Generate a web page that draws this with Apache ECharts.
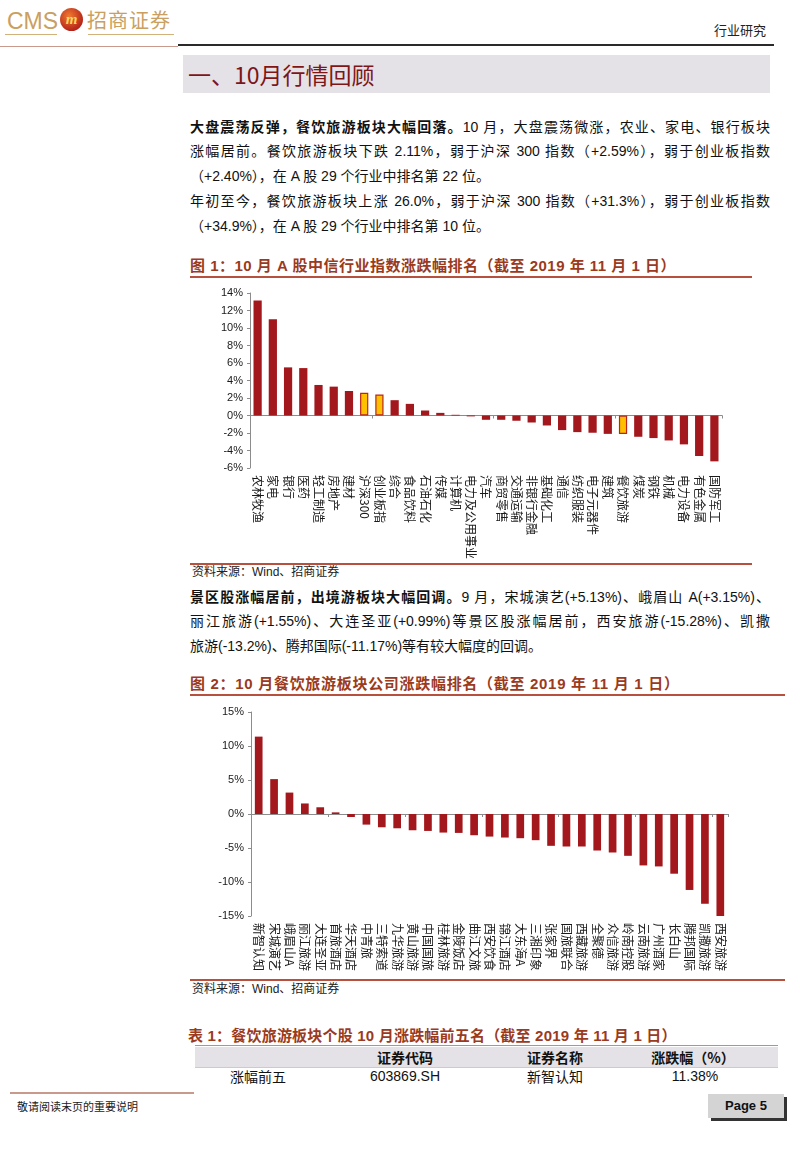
<!DOCTYPE html>
<html><head><meta charset="utf-8">
<script src="https://cdn.jsdelivr.net/npm/echarts@6/dist/echarts.min.js"></script>
<style>
html,body{margin:0;padding:0;background:#fff;}
#page{position:relative;width:800px;height:1164px;overflow:hidden;font-family:"Liberation Sans","Noto Sans CJK SC",sans-serif;color:#111;}
.abs{position:absolute;}
.ln{position:absolute;left:190px;width:580px;height:20px;line-height:20px;font-size:14px;white-space:nowrap;text-align:justify;text-align-last:justify;}
.ln.last{text-align-last:left;}
.ln b{font-family:"Noto Sans CJK SC",sans-serif;font-weight:700;}
.ftitle{position:absolute;left:190px;font-size:15px;font-weight:700;color:#9B3A1C;white-space:nowrap;line-height:20px;letter-spacing:0.5px;}
.rule{position:absolute;height:2px;background:#B8503E;}
.src{position:absolute;left:192px;font-size:12px;color:#222;line-height:16px;}
</style></head>
<body><div id="page">
<!-- header -->
<div class="abs" style="left:7px;top:8px;font-family:'Liberation Sans Narrow','Liberation Sans';font-size:23px;color:#C9A062;line-height:26px;">CMS</div>
<div class="abs" style="left:60px;top:8px;width:23px;height:23px;border-radius:12px;background:radial-gradient(circle at 40% 35%,#F07A30,#B8261A 70%,#8A1A12);"></div>
<div class="abs" style="left:60px;top:8px;width:23px;height:23px;line-height:23px;text-align:center;font-style:italic;font-weight:700;font-size:15px;color:#FFD75A;font-family:'Liberation Serif';">m</div>
<div class="abs" style="left:87px;top:7px;font-family:'Noto Sans CJK SC';font-size:20px;color:#C9A062;line-height:26px;letter-spacing:1px;">招商证券</div>
<div class="abs" style="left:5px;top:34px;width:52px;height:1px;background:#D2B27A;"></div>
<div class="abs" style="left:88px;top:34px;width:86px;height:1px;background:#D2B27A;"></div>
<div class="abs" style="left:714px;top:22px;font-family:'Noto Sans CJK SC';font-size:13px;color:#222;line-height:16px;">行业研究</div>
<div class="abs" style="left:0px;top:46px;width:178px;height:1px;background:#C79A8C;"></div>
<div class="abs" style="left:178px;top:44px;width:596px;height:2px;background:#2A2A2A;"></div>
<div class="abs" style="left:183px;top:55px;width:587px;height:38px;background:#E4E2E6;"></div>
<div class="abs" style="left:188px;top:58px;font-family:'Noto Sans CJK SC';font-size:23px;color:#7E1517;line-height:32px;">一、10月行情回顾</div>

<!-- paragraphs -->
<div class="ln" style="top:116px;"><b>大盘震荡反弹，餐饮旅游板块大幅回落。</b>10 月，大盘震荡微涨，农业、家电、银行板块</div>
<div class="ln" style="top:141px;">涨幅居前。餐饮旅游板块下跌 2.11%，弱于沪深 300 指数（+2.59%），弱于创业板指数</div>
<div class="ln last" style="top:166px;">（+2.40%），在 A 股 29 个行业中排名第 22 位。</div>
<div class="ln" style="top:191px;">年初至今，餐饮旅游板块上涨 26.0%，弱于沪深 300 指数（+31.3%），弱于创业板指数</div>
<div class="ln last" style="top:216px;">（+34.9%），在 A 股 29 个行业中排名第 10 位。</div>

<!-- figure 1 -->
<div class="ftitle" style="top:256px;">图 1：10 月 A 股中信行业指数涨跌幅排名（截至 2019 年 11 月 1 日）</div>
<div class="rule" style="left:190px;top:276px;width:562px;"></div>
<div id="c1" class="abs" style="left:185px;top:280px;width:575px;height:282px;"></div>
<div class="rule" style="left:190px;top:563px;width:562px;"></div>
<div class="src" style="top:564px;">资料来源：Wind、招商证券</div>

<div class="ln" style="top:586px;"><b>景区股涨幅居前，出境游板块大幅回调。</b>9 月，宋城演艺(+5.13%)、峨眉山 A(+3.15%)、</div>
<div class="ln" style="top:611px;">丽江旅游(+1.55%)、大连圣亚(+0.99%)等景区股涨幅居前，西安旅游(-15.28%)、凯撒</div>
<div class="ln last" style="top:636px;">旅游(-13.2%)、腾邦国际(-11.17%)等有较大幅度的回调。</div>

<!-- figure 2 -->
<div class="ftitle" style="top:674px;letter-spacing:0.7px;">图 2：10 月餐饮旅游板块公司涨跌幅排名（截至 2019 年 11 月 1 日）</div>
<div class="rule" style="left:190px;top:694px;width:595px;"></div>
<div id="c2" class="abs" style="left:185px;top:698px;width:575px;height:280px;"></div>
<div class="rule" style="left:190px;top:979px;width:595px;"></div>
<div class="src" style="top:981px;">资料来源：Wind、招商证券</div>

<!-- table -->
<div class="ftitle" style="left:188px;top:1026px;letter-spacing:0.2px;">表 1：餐饮旅游板块个股 10 月涨跌幅前五名（截至 2019 年 11 月 1 日）</div>
<div class="abs" style="left:195px;top:1045px;width:583px;height:1px;background:#C98A7C;"></div>
<div class="abs" style="left:195px;top:1047px;width:583px;height:20px;background:#E4E2E6;"></div>
<div class="abs" style="left:195px;top:1067px;width:583px;height:1px;background:#D6C6C6;"></div>
<div class="abs" style="left:365px;top:1047px;width:80px;text-align:center;font-weight:700;font-size:14px;line-height:20px;font-family:'Noto Sans CJK SC';">证券代码</div>
<div class="abs" style="left:515px;top:1047px;width:80px;text-align:center;font-weight:700;font-size:14px;line-height:20px;font-family:'Noto Sans CJK SC';">证券名称</div>
<div class="abs" style="left:643px;top:1047px;width:100px;text-align:center;font-weight:700;font-size:14px;line-height:20px;font-family:'Noto Sans CJK SC';">涨跌幅（%）</div>
<div class="abs" style="left:218px;top:1066px;width:80px;text-align:center;font-size:14px;line-height:20px;font-family:'Noto Sans CJK SC';">涨幅前五</div>
<div class="abs" style="left:355px;top:1066px;width:100px;text-align:center;font-size:14px;line-height:20px;">603869.SH</div>
<div class="abs" style="left:515px;top:1066px;width:80px;text-align:center;font-size:14px;line-height:20px;font-family:'Noto Sans CJK SC';">新智认知</div>
<div class="abs" style="left:655px;top:1066px;width:80px;text-align:center;font-size:14px;line-height:20px;">11.38%</div>

<!-- footer -->
<div class="abs" style="left:10px;top:1092px;width:184px;height:2px;background:#C79A8C;"></div>
<div class="abs" style="left:17px;top:1098px;font-family:'Noto Sans CJK SC';font-size:11px;color:#222;line-height:16px;">敬请阅读末页的重要说明</div>
<div class="abs" style="left:711px;top:1097px;width:76px;height:24px;background:#333;"></div>
<div class="abs" style="left:708px;top:1094px;width:76px;height:24px;background:#D4D4D4;line-height:24px;text-align:center;font-weight:700;font-size:13px;color:#111;">Page 5</div>
</div>

<script>
// Figure 1 data
var industries = ['农林牧渔','家电','银行','医药','轻工制造','房地产','建材','沪深300','创业板指','综合','食品饮料','石油石化','传媒','计算机','电力及公用事业','汽车','商贸零售','交通运输','非银行金融','基础化工','通信','纺织服装','电子元器件','建筑','餐饮旅游','煤炭','钢铁','机械','电力设备','有色金属','国防军工'];
var industryChange = [13.15,11.0,5.5,5.42,3.49,3.3,2.8,2.59,2.40,1.75,1.33,0.57,0.30,0.08,-0.10,-0.49,-0.49,-0.60,-0.80,-1.14,-1.67,-1.90,-1.97,-2.10,-2.11,-2.43,-2.58,-2.85,-3.30,-4.63,-5.24];
var highlighted = ['沪深300','创业板指','餐饮旅游'];
var yTicks1 = {min:-6,max:14,interval:2};

// Figure 2 data
var companies = ['新智认知','宋城演艺','峨眉山A','丽江旅游','大连圣亚','首旅酒店','华天酒店','中青旅','三特索道','九华旅游','黄山旅游','中国国旅','桂林旅游','金陵饭店','曲江文旅','西安饮食','锦江酒店','大东海A','三湘印象','张家界','国旅联合','西藏旅游','全聚德','众信旅游','岭南控股','云南旅游','广州酒家','长白山','腾邦国际','凯撒旅游','西安旅游'];
var companyChange = [11.38,5.13,3.15,1.55,0.99,0.24,-0.44,-1.56,-1.95,-2.10,-2.39,-2.49,-2.73,-2.78,-3.12,-3.32,-3.46,-3.56,-3.85,-4.68,-4.78,-4.78,-5.37,-5.66,-6.15,-7.56,-7.71,-8.78,-11.17,-13.20,-15.28];
var yTicks2 = {min:-15,max:15,interval:5};

var RED = '#A3181D';
var FONT = '"Liberation Sans","Noto Sans CJK SC",sans-serif';

function makeOption(cats, vals, ticks, grid, barW, hl){
  return {
    animation:false,
    textStyle:{fontFamily:FONT},
    grid:grid,
    xAxis:[
      {type:'category',data:cats,
       axisLine:{onZero:true,lineStyle:{color:'#8C8C8C',width:1}},
       axisTick:{show:true,length:3,lineStyle:{color:'#8C8C8C'}},
       axisLabel:{show:false},splitLine:{show:false}},
      {type:'category',data:cats,position:'bottom',
       axisLine:{show:false,onZero:false},axisTick:{show:false},
       axisLabel:{interval:0,rotate:-90,fontSize:12,color:'#1A1A1A',margin:7,fontFamily:'"Noto Sans CJK SC","Liberation Sans",sans-serif'},
       splitLine:{show:false}}
    ],
    yAxis:{type:'value',min:ticks.min,max:ticks.max,interval:ticks.interval,
      axisLine:{show:true,lineStyle:{color:'#8C8C8C'}},
      axisTick:{show:true,length:3,lineStyle:{color:'#8C8C8C'}},
      splitLine:{show:false},
      axisLabel:{formatter:'{value}%',fontSize:11,color:'#1A1A1A',margin:7,fontFamily:FONT}},
    series:[{type:'bar',xAxisIndex:0,barWidth:barW,
      data:vals.map(function(v,i){
        if(hl && hl.indexOf(cats[i])>=0){
          return {value:v,itemStyle:{color:'#FFC000',borderColor:'#B8261E',borderWidth:1.2}};
        }
        return {value:v,itemStyle:{color:RED}};
      })}]
  };
}

var c1 = echarts.init(document.getElementById('c1'),null,{renderer:'canvas'});
c1.setOption(makeOption(industries,industryChange,yTicks1,{left:65,right:38,top:13,bottom:92},'54%',highlighted));
var c2 = echarts.init(document.getElementById('c2'),null,{renderer:'canvas'});
c2.setOption(makeOption(companies,companyChange,yTicks2,{left:66,right:32,top:14,bottom:62},'50%',null));
</script>
</body></html>
